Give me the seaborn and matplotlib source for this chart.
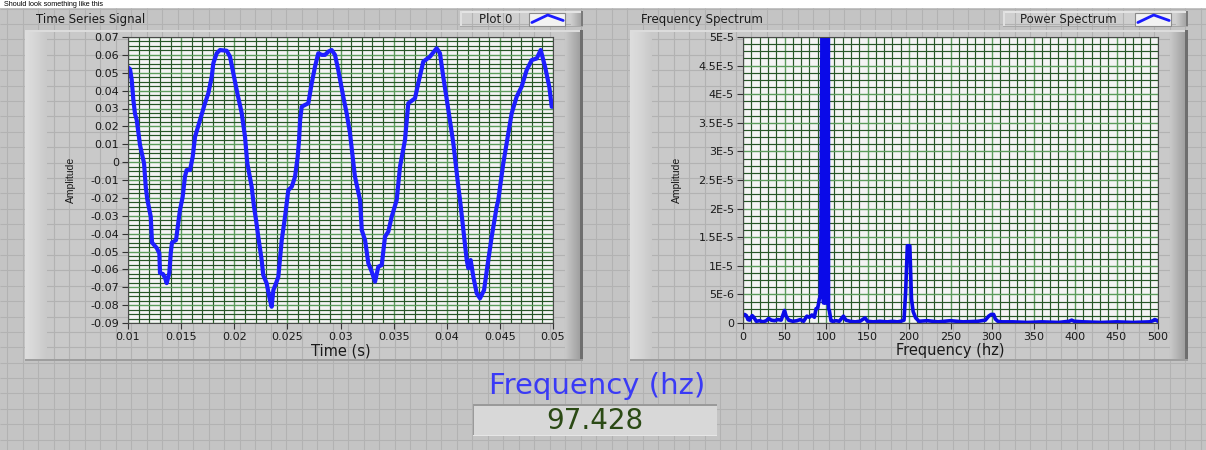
import numpy as np
import matplotlib
matplotlib.use("Agg")
import matplotlib.pyplot as plt
import seaborn as sns
from matplotlib.patches import Rectangle
from matplotlib.ticker import MultipleLocator
from matplotlib.colors import to_rgb
from matplotlib import font_manager

# ---------------- data ----------------
time_s = [0.01000, 0.01019, 0.01035, 0.01050, 0.01066, 0.01082, 0.01113, 0.01151, 0.01167, 0.01182,
          0.01214, 0.01226, 0.01270, 0.01295, 0.01301, 0.01329, 0.01350, 0.01364, 0.01389, 0.01402,
          0.01414, 0.01452, 0.01489, 0.01515, 0.01536, 0.01552, 0.01584, 0.01609, 0.01631, 0.01678,
          0.01725, 0.01756, 0.01788, 0.01803, 0.01835, 0.01866, 0.01929, 0.01960, 0.01991, 0.02029,
          0.02070, 0.02101, 0.02123, 0.02164, 0.02186, 0.02205, 0.02226, 0.02258, 0.02273, 0.02305,
          0.02336, 0.02352, 0.02368, 0.02393, 0.02415, 0.02447, 0.02478, 0.02509, 0.02541, 0.02572,
          0.02597, 0.02610, 0.02620, 0.02635, 0.02666, 0.02697, 0.02729, 0.02760, 0.02791, 0.02823,
          0.02854, 0.02885, 0.02917, 0.02948, 0.02979, 0.03026, 0.03058, 0.03089, 0.03136, 0.03184,
          0.03200, 0.03231, 0.03262, 0.03294, 0.03325, 0.03356, 0.03388, 0.03419, 0.03450, 0.03482,
          0.03529, 0.03560, 0.03607, 0.03638, 0.03701, 0.03732, 0.03779, 0.03842, 0.03905, 0.03936,
          0.03967, 0.04015, 0.04062, 0.04109, 0.04125, 0.04156, 0.04188, 0.04203, 0.04225, 0.04250,
          0.04282, 0.04313, 0.04351, 0.04382, 0.04423, 0.04470, 0.04485, 0.04532, 0.04579, 0.04611,
          0.04658, 0.04705, 0.04752, 0.04800, 0.04847, 0.04884, 0.04925, 0.04965, 0.04988, 0.05000]
amplitude = [0.053, 0.052, 0.046, 0.035, 0.027, 0.0236, 0.0096, -0.0007, -0.0138, -0.021,
             -0.0305, -0.045, -0.048, -0.051, -0.062, -0.0626, -0.065, -0.0677, -0.062, -0.051,
             -0.045, -0.0436, -0.0268, -0.0193, -0.0081, -0.0044, -0.0044, 0.003, 0.0142, 0.0236,
             0.033, 0.0385, 0.0478, 0.0553, 0.0609, 0.0627, 0.0623, 0.059, 0.0497, 0.0385,
             0.0275, 0.0142, -0.0007, -0.0138, -0.025, -0.0324, -0.0417, -0.0548, -0.0632, -0.0678,
             -0.0771, -0.0809, -0.0716, -0.0678, -0.0641, -0.0436, -0.0305, -0.0156, -0.0138, -0.0082,
             0.003, 0.0124, 0.0236, 0.031, 0.032, 0.0329, 0.0441, 0.0534, 0.0609, 0.060,
             0.060, 0.0618, 0.0627, 0.060, 0.0515, 0.0366, 0.0273, 0.0163, -0.0082, -0.0212,
             -0.038, -0.0436, -0.0566, -0.0613, -0.0669, -0.0585, -0.0576, -0.0417, -0.0389, -0.0305,
             -0.0212, -0.0026, 0.0124, 0.0329, 0.0357, 0.0441, 0.0562, 0.059, 0.0637, 0.0609,
             0.0478, 0.0292, 0.0105, -0.0138, -0.0212, -0.038, -0.0548, -0.0594, -0.0548, -0.0641,
             -0.0734, -0.0762, -0.0716, -0.0585, -0.0417, -0.025, -0.0212, -0.0007, 0.0161, 0.0273,
             0.0366, 0.0422, 0.0515, 0.0571, 0.058, 0.0627, 0.0534, 0.0422, 0.031, 0.031]

freq_hz = [0, 2, 4, 6, 8, 11, 13, 16, 20, 24,
           28, 31, 34, 38, 42, 46, 50, 52, 55, 60,
           65, 69, 73, 77, 80, 83, 86, 88, 90, 92,
           93, 94, 95, 96, 97, 98, 99, 100, 101, 102,
           103, 104, 106, 108, 112,
           116, 121, 124, 129, 135, 141, 147, 150, 157, 165,
           174, 180, 186, 190, 194, 196, 198, 201, 203, 205,
           208, 212, 222, 235, 250, 265, 283, 292, 296, 299,
           302, 304, 307, 312, 325, 343, 360, 380, 393, 396,
           399, 410, 432, 450, 470, 490, 494, 496, 498, 500]
# power spectrum values in units of 1E-6
power_micro = [1.2, 1.5, 1.3, 0.6, 0.5, 1.3, 1.0, 0.3, 0.4, 0.2,
               0.4, 0.8, 0.5, 0.4, 0.6, 0.5, 2.2, 1.2, 0.5, 0.3,
               0.4, 0.6, 0.3, 1.2, 1.0, 1.4, 1.0, 2.5, 2.6, 4.2,
               4.5, 17.0, 47.0, 400.0, 3.5, 400.0, 3.5, 400.0, 3.5, 400.0,
               2.5, 2.2, 0.4, 0.3, 0.4,
               0.3, 1.2, 0.5, 0.3, 0.2, 0.3, 0.9, 0.3, 0.2, 0.3,
               0.2, 0.3, 0.2, 0.3, 0.5, 5.6, 13.5, 13.5, 4.2, 2.0,
               0.9, 0.3, 0.4, 0.2, 0.4, 0.2, 0.3, 0.5, 1.2, 1.5,
               1.5, 0.7, 0.3, 0.2, 0.2, 0.1, 0.2, 0.1, 0.3, 0.5,
               0.3, 0.2, 0.1, 0.2, 0.1, 0.2, 0.4, 0.6, 0.5, 0.3]

time_ticks = [0.01, 0.015, 0.02, 0.025, 0.03, 0.035, 0.04, 0.045, 0.05]
time_tick_labels = ["0.01", "0.015", "0.02", "0.025", "0.03", "0.035", "0.04", "0.045", "0.05"]
amp_ticks = [0.07, 0.06, 0.05, 0.04, 0.03, 0.02, 0.01, 0.0, -0.01, -0.02,
             -0.03, -0.04, -0.05, -0.06, -0.07, -0.08, -0.09]
amp_tick_labels = ["0.07", "0.06", "0.05", "0.04", "0.03", "0.02", "0.01", "0", "-0.01", "-0.02",
                   "-0.03", "-0.04", "-0.05", "-0.06", "-0.07", "-0.08", "-0.09"]
freq_ticks = [0, 50, 100, 150, 200, 250, 300, 350, 400, 450, 500]
freq_tick_labels = ["0", "50", "100", "150", "200", "250", "300", "350", "400", "450", "500"]
power_ticks_micro = [50, 45, 40, 35, 30, 25, 20, 15, 10, 5, 0]
power_tick_labels = ["5E-5", "4.5E-5", "4E-5", "3.5E-5", "3E-5", "2.5E-5", "2E-5",
                     "1.5E-5", "1E-5", "5E-6", "0"]

left_title = "Time Series Signal"
right_title = "Frequency Spectrum"
left_legend = "Plot 0"
right_legend = "Power Spectrum"
left_xlabel = "Time (s)"
right_xlabel = "Frequency (hz)"
ylabel_text = "Amplitude"
indicator_label = "Frequency (hz)"
indicator_value = "97.428"
caption = "Should look something like this"

assert len(time_s) == len(amplitude)
assert len(freq_hz) == len(power_micro)

# ---------------- style ----------------
sns.set_theme(style="white")
plt.rcParams["font.family"] = ["DejaVu Sans"]


def has_font(name):
    try:
        font_manager.findfont(font_manager.FontProperties(family=name), fallback_to_default=False)
        return True
    except Exception:
        return False


narrow = "Liberation Sans Narrow" if has_font("Liberation Sans Narrow") else "Liberation Sans"

W, H = 1206, 450
fig = plt.figure(figsize=(W / 100, H / 100), dpi=100)
bg = fig.add_axes([0, 0, 1, 1])
bg.set_zorder(-5)
bg.axis("off")

# page background with LabVIEW grid
bg.add_patch(Rectangle((0, 0), W, H, fc="white", ec="none"))
bg.add_patch(Rectangle((0, 8), W, H - 8, fc="#c4c4c4", ec="none"))
bg.vlines(np.arange(7.3, W, 15.5), 8, H, color="#b2b2b2", lw=0.8)
bg.hlines(np.arange(8.5, H, 15.4), 0, W, color="#b2b2b2", lw=0.8)
bg.text(4, 0.6, caption, fontsize=5.2, family="Liberation Sans", color="black",
        va="top", ha="left", zorder=6)


def grad(x0, x1, y0, y1, c0, c1):
    c0 = np.array(to_rgb(c0)); c1 = np.array(to_rgb(c1))
    t = np.linspace(0, 1, 64)[:, None]
    img = (c0 + (c1 - c0) * t)[None, :, :]
    bg.imshow(img, extent=[x0, x1, y1, y0], aspect="auto", interpolation="bilinear", zorder=2)


def panel(x0, x1, y0, y1):
    bg.add_patch(Rectangle((x0, y0), x1 - x0, y1 - y0, fc="#c9c9c9", ec="none", zorder=1))
    grad(x0, x0 + 8, y0, y1, "#dedede", "#d8d8d8")
    grad(x0 + 8, x0 + 22, y0, y1, "#d8d8d8", "#c9c9c9")
    grad(x1 - 18, x1 - 3, y0, y1, "#c9c9c9", "#a0a0a0")
    bg.add_patch(Rectangle((x1 - 3, y0), 3, y1 - y0, fc="#6e6e6e", ec="none", zorder=3))
    bg.add_patch(Rectangle((x0, y0), x1 - x0 - 3, 1.5, fc="#dcdcdc", ec="none", zorder=3))
    bg.add_patch(Rectangle((x0, y1 - 2), x1 - x0, 2, fc="#9e9e9e", ec="none", zorder=3))


def legend_box(x0, x1, text, tx, ix0, ix1):
    y0, y1 = 11, 27
    bg.add_patch(Rectangle((x0, y0), x1 - x0, y1 - y0, fc="#cfcfcf", ec="none", zorder=1))
    bg.add_patch(Rectangle((x0, y0), x1 - x0, 2, fc="#e4e4e4", ec="none", zorder=3))
    bg.add_patch(Rectangle((x0, y0), 2, y1 - y0, fc="#e0e0e0", ec="none", zorder=3))
    grad(x1 - 12, x1 - 2, y0, y1, "#cfcfcf", "#a4a4a4")
    bg.add_patch(Rectangle((x1 - 2, y0), 2, y1 - y0, fc="#7a7a7a", ec="none", zorder=3))
    bg.add_patch(Rectangle((x0, y1 - 1.2), x1 - x0, 1.2, fc="#a8a8a8", ec="none", zorder=3))
    bg.text(tx, (y0 + y1) / 2 + 0.5, text, fontsize=8.5, color="#202020", va="center", ha="left", zorder=4)
    bg.add_patch(Rectangle((ix0, 12.5), ix1 - ix0, 13, fc="#f2f2f2", ec="#8a8a8a", lw=0.8, zorder=4))
    w = ix1 - ix0
    bg.plot([ix0 + 0.08 * w, ix0 + 0.52 * w, ix0 + 0.95 * w], [22.5, 15, 20.5],
            color="#1a1aff", lw=2.0, solid_capstyle="round", zorder=5)


panel(25, 583, 30, 361)
panel(630, 1188, 30, 361)
legend_box(460, 583, left_legend, 479, 529, 565)
legend_box(1003, 1188, right_legend, 1020, 1135, 1171)
bg.text(36, 20, left_title, fontsize=8.5, color="#1a1a1a", va="center", ha="left", zorder=4)
bg.text(641, 20, right_title, fontsize=8.5, color="#1a1a1a", va="center", ha="left", zorder=4)

# numeric indicator
bg.text(597, 386, indicator_label, fontsize=21, color="#3a3af6", ha="center", va="center", zorder=4)
bg.add_patch(Rectangle((472.5, 404), 244, 32, fc="#d8d8d8", ec="none", zorder=3))
bg.add_patch(Rectangle((472.5, 404), 244, 1.5, fc="#9a9a9a", ec="none", zorder=4))
bg.add_patch(Rectangle((472.5, 404), 1.5, 32, fc="#9a9a9a", ec="none", zorder=4))
bg.add_patch(Rectangle((472.5, 434.8), 244, 1.2, fc="#e6e6e6", ec="none", zorder=4))
bg.text(595, 421, indicator_value, fontsize=20, color="#2b4a15", ha="center", va="center", zorder=5)

bg.set_xlim(0, W)
bg.set_ylim(H, 0)

# ---------------- plot axes ----------------
major_grid = "#5c9c5c"
minor_grid = "#275627"


def style_axes(ax):
    ax.set_facecolor("#f4f4f4")
    ax.set_axisbelow(True)
    ax.grid(which="minor", color=minor_grid, lw=0.85)
    ax.grid(which="major", color=major_grid, lw=1.0)
    for s in ax.spines.values():
        s.set_color("#4a4a4a")
        s.set_linewidth(0.8)
    ax.tick_params(which="major", direction="out", length=4.5, width=0.8, color="#333333",
                   labelsize=8, labelcolor="#1a1a1a", pad=2,
                   bottom=True, left=True, top=False, right=False)
    ax.tick_params(which="minor", length=0, bottom=False, left=False)


ax1 = fig.add_axes([128 / W, 1 - 323 / H, 425 / W, 286 / H])
sns.lineplot(x=time_s, y=amplitude, ax=ax1, color="#1e1eff", linewidth=3.0,
             estimator=None, sort=False)
ax1.set_xlim(0.01, 0.05)
ax1.set_ylim(-0.09, 0.07)
ax1.set_xticks(time_ticks, time_tick_labels)
ax1.set_yticks(amp_ticks, amp_tick_labels)
ax1.xaxis.set_minor_locator(MultipleLocator(0.001))
ax1.yaxis.set_minor_locator(MultipleLocator(0.0025))
style_axes(ax1)
ax1.set_xlabel(left_xlabel, fontsize=10.5, color="#1a1a1a", labelpad=1)
ax1.set_ylabel(ylabel_text, fontsize=7.5, family=narrow, color="#1a1a1a")
ax1.yaxis.set_label_coords((76 - 128) / 425, 0.5)

ax2 = fig.add_axes([743 / W, 1 - 323 / H, 415 / W, 286 / H])
power = np.array(power_micro) * 1e-6
sns.lineplot(x=freq_hz, y=power, ax=ax2, color="#0a0ae8", linewidth=2.6,
             estimator=None, sort=False)
ax2.set_xlim(0, 500)
ax2.set_ylim(0, 5e-5)
ax2.set_xticks(freq_ticks, freq_tick_labels)
ax2.set_yticks(np.array(power_ticks_micro) * 1e-6, power_tick_labels)
ax2.xaxis.set_minor_locator(MultipleLocator(10))
ax2.yaxis.set_minor_locator(MultipleLocator(1.25e-6))
style_axes(ax2)
ax2.set_xlabel(right_xlabel, fontsize=10.5, color="#1a1a1a", labelpad=1)
ax2.set_ylabel(ylabel_text, fontsize=7.5, family=narrow, color="#1a1a1a")
ax2.yaxis.set_label_coords((682 - 743) / 415, 0.5)

fig.savefig("out.png", dpi=100)
